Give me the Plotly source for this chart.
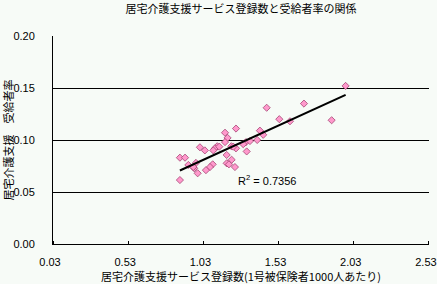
import numpy as np
import plotly.graph_objects as go

registrations = [1.976, 1.699, 1.451, 1.883, 1.535, 1.606, 1.247, 1.174, 1.406, 1.428,
                 1.388, 1.191, 1.174, 1.122, 1.107, 1.096, 1.007, 1.040, 1.216, 1.247,
                 1.313, 1.340, 1.318, 1.185, 1.218, 1.185, 1.200, 1.240, 1.092, 1.074,
                 1.047, 0.992, 0.969, 0.981, 0.930, 0.874, 0.908, 0.874, 1.136, 1.229,
                 1.295, 0.963]
benefit_rate = [0.152, 0.135, 0.131, 0.119, 0.120, 0.118, 0.111, 0.107, 0.109, 0.105,
                0.100, 0.102, 0.098, 0.094, 0.092, 0.090, 0.093, 0.090, 0.094, 0.092,
                0.098, 0.099, 0.089, 0.0856, 0.081, 0.0776, 0.0766, 0.074, 0.0766, 0.074,
                0.071, 0.068, 0.0728, 0.078, 0.076, 0.083, 0.083, 0.0615, 0.0936, 0.0936,
                0.096, 0.074]

x_ticks = [0.03, 0.53, 1.03, 1.53, 2.03, 2.53]
y_ticks = [0.00, 0.05, 0.10, 0.15, 0.20]
r2_label = "R<sup>2</sup> = 0.7356"

title = "居宅介護支援サービス登録数と受給者率の関係"
x_title = "居宅介護支援サービス登録数(1号被保険者1000人あたり)"
y_title = "居宅介護支援　受給者率"

x = np.array(registrations)
y = np.array(benefit_rate)
slope, intercept = np.polyfit(x, y, 1)
xl = np.array([x.min(), x.max()])
yl = slope * xl + intercept

bg = "#f7fbf7"
cjk = "Noto Sans CJK JP"
latin = "Liberation Sans"

fig = go.Figure()
fig.add_trace(go.Scatter(
    x=registrations, y=benefit_rate, mode="markers",
    marker=dict(symbol="diamond", size=5.5, color="#ff99cc",
                line=dict(color="#993366", width=0.7)),
    showlegend=False))
fig.add_trace(go.Scatter(
    x=xl, y=yl, mode="lines", line=dict(color="black", width=2),
    showlegend=False))

fig.add_annotation(x=1.245, y=0.0615, xref="x", yref="y", text=r2_label,
                   showarrow=False, xanchor="left", yanchor="middle",
                   font=dict(family=latin, size=11, color="black"))

fig.update_layout(
    width=437, height=284,
    margin=dict(l=53, r=8, t=36, b=40, autoexpand=False),
    paper_bgcolor=bg, plot_bgcolor=bg,
    title=dict(text=title, x=0.5, xref="paper", xanchor="center",
               y=0.968, yref="container", yanchor="middle",
               font=dict(family=cjk, size=11, color="black")),
    xaxis=dict(range=[0.03, 2.5305], tickvals=x_ticks, tickformat=".2f",
               automargin=False,
               showgrid=False, zeroline=False, showline=True, linecolor="black",
               linewidth=1, ticks="outside", ticklen=8, tickcolor=bg,
               ticklabeloverflow="allow", ticklabelshift=-3,
               minor=dict(tickvals=x_ticks, ticks="inside", ticklen=3,
                          tickcolor="black", showgrid=False),
               tickfont=dict(family=latin, size=11, color="black"),
               title=dict(text=x_title, standoff=2,
                          font=dict(family=cjk, size=11, color="black"))),
    yaxis=dict(range=[0, 0.20], tickvals=y_ticks, tickformat=".2f",
               automargin=False,
               showgrid=True, gridcolor="black", gridwidth=1, zeroline=False,
               showline=True, linecolor="black", linewidth=1,
               ticks="outside", ticklen=15, tickcolor=bg,
               minor=dict(tickvals=y_ticks, ticks="outside", ticklen=3,
                          tickcolor="black", showgrid=False),
               tickfont=dict(family=latin, size=11, color="black"),
               title=dict(text=y_title, standoff=0,
                          font=dict(family=cjk, size=11, color="black"))),
)

fig.write_html("out.html")
